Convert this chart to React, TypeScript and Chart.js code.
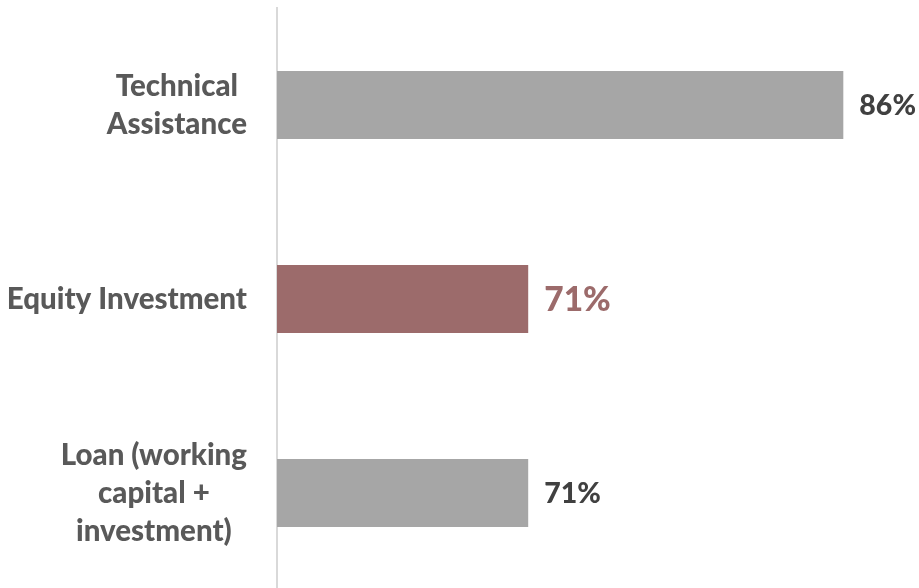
import React, { useEffect, useRef } from "react";
import { Chart, registerables } from "chart.js";

Chart.register(...registerables);

const categories: string[][] = [
  ["Technical", "Assistance"],
  ["Equity Investment"],
  ["Loan (working", "capital +", "investment)"],
];
const values: number[] = [85.7, 71.4, 71.4];
const valueLabels: string[] = ["86%", "71%", "71%"];

const FONT = "Lato, 'Open Sans', sans-serif";
const barColors = ["#A6A6A6", "#9C6B6B", "#A6A6A6"];
const labelColors = ["#404040", "#9C6B6B", "#404040"];
const labelSizes = [28.5, 33.5, 28.5];

const labelPlugin = {
  id: "customLabels",
  afterDraw(chart: any) {
    const ctx = chart.ctx;
    const y = chart.scales.y;
    const x = chart.scales.x;
    ctx.save();
    // category labels
    ctx.font = `900 29.5px ${FONT}`;
    ctx.fillStyle = "#595959";
    ctx.textBaseline = "middle";
    ctx.textAlign = "center";
    const lineH = 38;
    const rightEdge = 247;
    categories.forEach((lines, i) => {
      const cy = y.getPixelForValue(i);
      const maxW = Math.max(...lines.map((l) => ctx.measureText(l).width));
      const cx = rightEdge - maxW / 2;
      const startY = cy - ((lines.length - 1) * lineH) / 2;
      lines.forEach((l, j) => ctx.fillText(l, cx, startY + j * lineH));
    });
    // value labels
    ctx.textAlign = "left";
    values.forEach((v, i) => {
      const px = x.getPixelForValue(v);
      const cy = y.getPixelForValue(i);
      ctx.font = `900 ${labelSizes[i]}px ${FONT}`;
      ctx.fillStyle = labelColors[i];
      ctx.fillText(valueLabels[i], px + 16, cy + 1);
    });
    ctx.restore();
  },
};

export default function App() {
  const ref = useRef<HTMLCanvasElement>(null);
  useEffect(() => {
    if (!ref.current) return;
    const chart = new Chart(ref.current, {
      type: "bar",
      data: {
        labels: categories.map((c) => c.join(" ")),
        datasets: [
          {
            data: values,
            backgroundColor: barColors,
            categoryPercentage: 1,
            barPercentage: 0.35,
          },
        ],
      },
      options: {
        indexAxis: "y",
        animation: false,
        responsive: true,
        maintainAspectRatio: false,
        layout: { padding: { top: 8, right: 25, bottom: 0, left: 0 } },
        plugins: { legend: { display: false }, tooltip: { enabled: false } },
        scales: {
          x: {
            display: false,
            min: 60,
            max: 88,
          },
          y: {
            grid: { display: false },
            border: { display: true, color: "#D9D9D9", width: 2 },
            ticks: { display: false },
            afterFit(scale: any) {
              scale.width = 277;
            },
          },
        },
      },
      plugins: [labelPlugin],
    });
    return () => chart.destroy();
  }, []);
  return (
    <div style={{ position: "fixed", left: 0, top: 0, width: 919, height: 588, overflow: "hidden", background: "#fff" }}>
      <div style={{ position: "relative", width: 919, height: 590 }}>
        <canvas ref={ref} />
      </div>
    </div>
  );
}
